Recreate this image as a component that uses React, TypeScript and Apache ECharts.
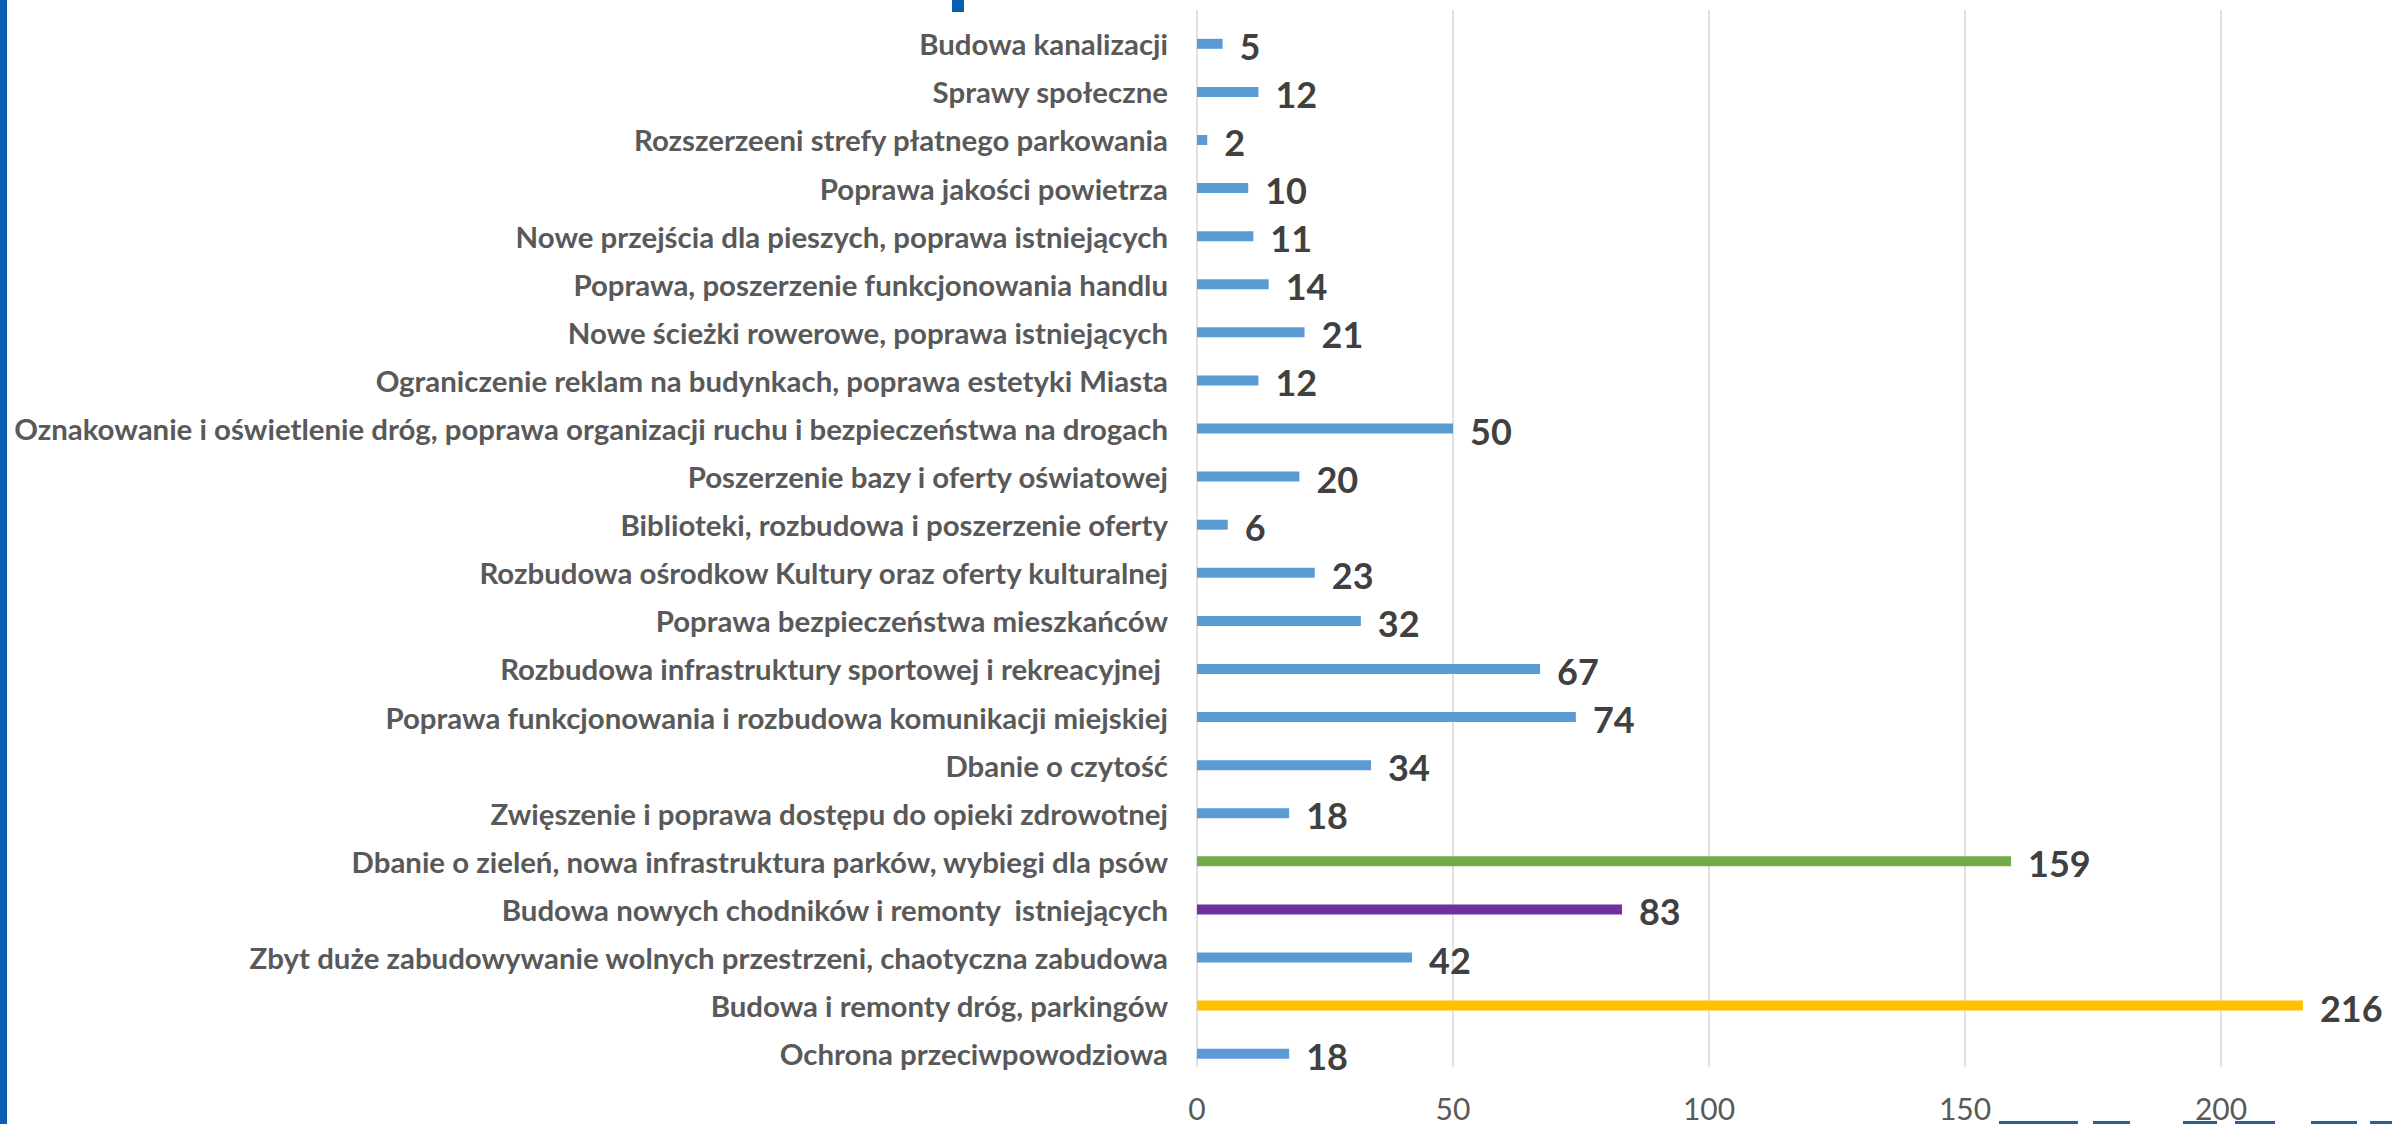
import React, { useEffect, useRef } from "react";
import * as echarts from "echarts";

const categories = [
  "Budowa kanalizacji",
  "Sprawy społeczne",
  "Rozszerzeeni strefy płatnego parkowania",
  "Poprawa jakości powietrza",
  "Nowe przejścia dla pieszych, poprawa istniejących",
  "Poprawa, poszerzenie funkcjonowania handlu",
  "Nowe ścieżki rowerowe, poprawa istniejących",
  "Ograniczenie reklam na budynkach, poprawa estetyki Miasta",
  "Oznakowanie i oświetlenie dróg, poprawa organizacji ruchu i bezpieczeństwa na drogach",
  "Poszerzenie bazy i oferty oświatowej",
  "Biblioteki, rozbudowa i poszerzenie oferty",
  "Rozbudowa ośrodkow Kultury oraz oferty kulturalnej",
  "Poprawa bezpieczeństwa mieszkańców",
  "Rozbudowa infrastruktury sportowej i rekreacyjnej ",
  "Poprawa funkcjonowania i rozbudowa komunikacji miejskiej",
  "Dbanie o czytość",
  "Zwięszenie i poprawa dostępu do opieki zdrowotnej",
  "Dbanie o zieleń, nowa infrastruktura parków, wybiegi dla psów",
  "Budowa nowych chodników i remonty  istniejących",
  "Zbyt duże zabudowywanie wolnych przestrzeni, chaotyczna zabudowa",
  "Budowa i remonty dróg, parkingów",
  "Ochrona przeciwpowodziowa",
];

const values = [5, 12, 2, 10, 11, 14, 21, 12, 50, 20, 6, 23, 32, 67, 74, 34, 18, 159, 83, 42, 216, 18];

const axisMin = 0;
const axisMax = 250;
const axisStep = 50;

const defaultColor = "#5B9BD5";
const highlightColors: Record<string, string> = {
  "Dbanie o zieleń, nowa infrastruktura parków, wybiegi dla psów": "#70AD47",
  "Budowa nowych chodników i remonty  istniejących": "#7030A0",
  "Budowa i remonty dróg, parkingów": "#FFC000",
};

const FONT = "Lato, 'Noto Sans', sans-serif";

export default function App() {
  const ref = useRef<HTMLDivElement>(null);

  useEffect(() => {
    if (!ref.current) return;
    const chart = echarts.init(ref.current, undefined, { renderer: "svg" });
    const deco = "#0B5FB0";
    const dashColor = "#2A5F9A";
    const dashes = [
      [1999, 79],
      [2093, 37],
      [2183, 34],
      [2235, 40],
      [2311, 46],
      [2370, 22],
    ];
    chart.setOption({
      animation: false,
      backgroundColor: "#ffffff",
      grid: [
        { left: 1197, width: 1280, top: 19.75, height: 1058, outerBoundsMode: "none", containLabel: false },
        { left: 1197, width: 1280, top: 10, height: 1057, outerBoundsMode: "none", containLabel: false },
      ],
      xAxis: [
        { gridIndex: 0, type: "value", min: axisMin, max: axisMax, interval: axisStep, show: false },
        {
          gridIndex: 1,
          type: "value",
          min: axisMin,
          max: axisMax,
          interval: axisStep,
          axisLine: { show: false },
          axisTick: { show: false },
          splitLine: { show: true, lineStyle: { color: "#D9D9D9", width: 1.5 } },
          axisLabel: { fontSize: 30, color: "#595959", margin: 26, fontFamily: FONT },
        },
      ],
      yAxis: [
        {
          gridIndex: 0,
          type: "category",
          data: categories,
          inverse: true,
          axisLine: { show: false },
          axisTick: { show: false },
          splitLine: { show: false },
          axisLabel: {
            fontSize: 29.4,
            fontWeight: "bold",
            color: "#595959",
            margin: 29,
            fontFamily: FONT,
            interval: 0,
          },
        },
        { gridIndex: 1, type: "value", min: 0, max: 1, show: false },
      ],
      series: [
        {
          type: "bar",
          xAxisIndex: 0,
          yAxisIndex: 0,
          data: values,
          barWidth: 10,
          itemStyle: {
            color: (p: any) => highlightColors[p.name] || defaultColor,
          },
          label: {
            show: true,
            position: "right",
            distance: 17,
            fontSize: 36,
            fontWeight: "bold",
            color: "#404040",
            fontFamily: FONT,
            offset: [0, 2],
          },
        },
      ],
      graphic: [
        { type: "rect", shape: { x: 0, y: 0, width: 7, height: 1124 }, style: { fill: deco } },
        { type: "rect", shape: { x: 952, y: 0, width: 12, height: 12 }, style: { fill: deco } },
        ...dashes.map(([x, w]) => ({
          type: "rect",
          shape: { x, y: 1121, width: w, height: 3 },
          style: { fill: dashColor },
        })),
      ],
    });
    return () => chart.dispose();
  }, []);

  return (
    <div style={{ position: "fixed", left: 0, top: 0, width: 2392, height: 1124, overflow: "hidden", background: "#fff" }}>
      <div ref={ref} style={{ width: 2392, height: 1124 }} />
    </div>
  );
}
